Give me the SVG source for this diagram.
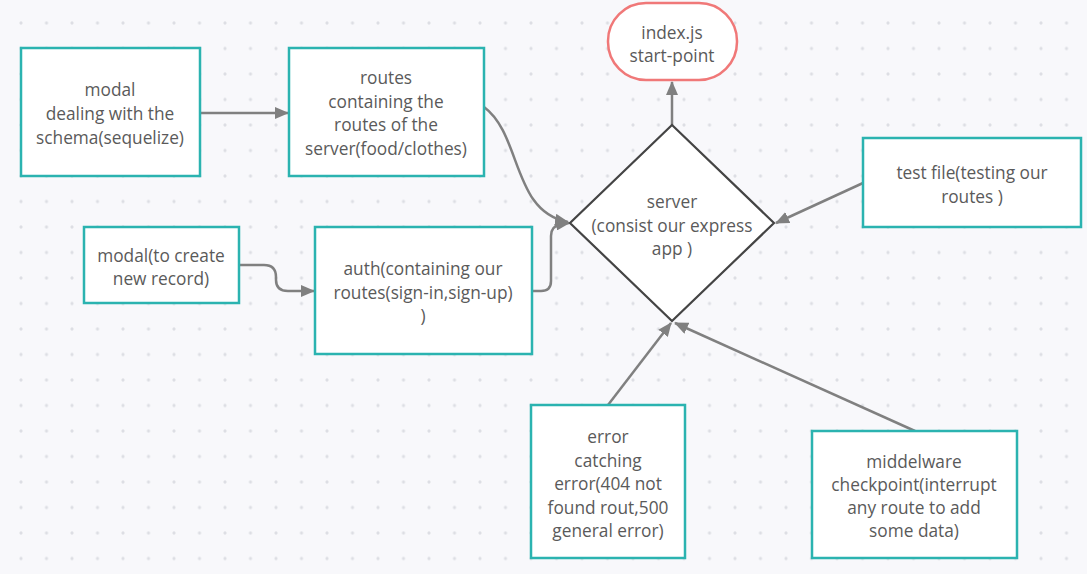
<svg xmlns="http://www.w3.org/2000/svg" width="1087" height="574" viewBox="0 0 1087 574">
<style>
.box{fill:#fff;stroke:#2bb3b0;stroke-width:2.5}
.start{fill:#fff;stroke:#f07878;stroke-width:2.5}
.dia{fill:#fff;stroke:#444;stroke-width:2.2}
.c{fill:none;stroke:#808080;stroke-width:2.5}
text{font-family:"Open Sans","Noto Sans",sans-serif;font-size:17.3px;fill:#5a5a5a;text-anchor:middle;dominant-baseline:central}
</style>
<defs>
<pattern id="dots" x="8.25" y="10.25" width="25.5" height="25.5" patternUnits="userSpaceOnUse">
<circle cx="12.75" cy="12.75" r="1.6" fill="#dddee4"/>
</pattern>
<marker id="ah" viewBox="0 0 14 12" refX="13" refY="6" markerWidth="14" markerHeight="12" markerUnits="userSpaceOnUse" orient="auto">
<path d="M0,0 L14,6 L0,12 Z" fill="#808080"/>
</marker>
</defs>
<rect width="1087" height="574" fill="#f8f8fb"/>
<rect width="1087" height="574" fill="url(#dots)"/>
<g id="connectors">
<path class="c" d="M200,113 L288,113" marker-end="url(#ah)"/>
<path class="c" d="M484,107 C522,135 512,212 568,222" marker-end="url(#ah)"/>
<path class="c" d="M239,265 L264,265 Q276,265 276,277 L276,280 Q276,291 288,291 L314,291" marker-end="url(#ah)"/>
<path class="c" d="M532,291 L541,291 Q551,291 551,281 L551,236 Q551,226 561,224 L569,223" marker-end="url(#ah)"/>
<path class="c" d="M672,125 L672,82" marker-end="url(#ah)"/>
<path class="c" d="M863,183 L776,223" marker-end="url(#ah)"/>
<path class="c" d="M608,405 L671,323" marker-end="url(#ah)"/>
<path class="c" d="M915,431 L675,323" marker-end="url(#ah)"/>
</g>
<g id="modal">
<rect class="box" x="21" y="48" width="179" height="128"/>
<text x="110" y="89">modal</text>
<text x="110" y="113">dealing with the</text>
<text x="110" y="137">schema(sequelize)</text>
</g>
<g id="routes">
<rect class="box" x="289" y="48" width="195" height="128"/>
<text x="386" y="77">routes</text>
<text x="386" y="101">containing the</text>
<text x="386" y="124">routes of the</text>
<text x="386" y="148">server(food/clothes)</text>
</g>
<g id="modal-create">
<rect class="box" x="84" y="227" width="155" height="76"/>
<text x="161" y="255">modal(to create</text>
<text x="161" y="278">new record)</text>
</g>
<g id="auth">
<rect class="box" x="315" y="227" width="217" height="127"/>
<text x="423" y="268">auth(containing our</text>
<text x="423" y="292">routes(sign-in,sign-up)</text>
<text x="423" y="315">)</text>
</g>
<g id="index">
<rect class="start" x="608" y="3" width="129" height="77" rx="38" ry="38"/>
<text x="672" y="32">index.js</text>
<text x="672" y="55">start-point</text>
</g>
<g id="server">
<path class="dia" d="M672,125 L774,223 L672,321 L570,223 Z"/>
<text x="672" y="201">server</text>
<text x="672" y="225">(consist our express</text>
<text x="672" y="248">app )</text>
</g>
<g id="test">
<rect class="box" x="863" y="138" width="218" height="89"/>
<text x="972" y="172">test file(testing our</text>
<text x="972" y="196">routes )</text>
</g>
<g id="error">
<rect class="box" x="531" y="405" width="154" height="153"/>
<text x="608" y="436">error</text>
<text x="608" y="460">catching</text>
<text x="608" y="483">error(404 not</text>
<text x="608" y="507">found rout,500</text>
<text x="608" y="530">general error)</text>
</g>
<g id="middleware">
<rect class="box" x="812" y="431" width="205" height="127"/>
<text x="914" y="461">middelware</text>
<text x="914" y="484">checkpoint(interrupt</text>
<text x="914" y="507">any route to add</text>
<text x="914" y="530">some data)</text>
</g>
</svg>
